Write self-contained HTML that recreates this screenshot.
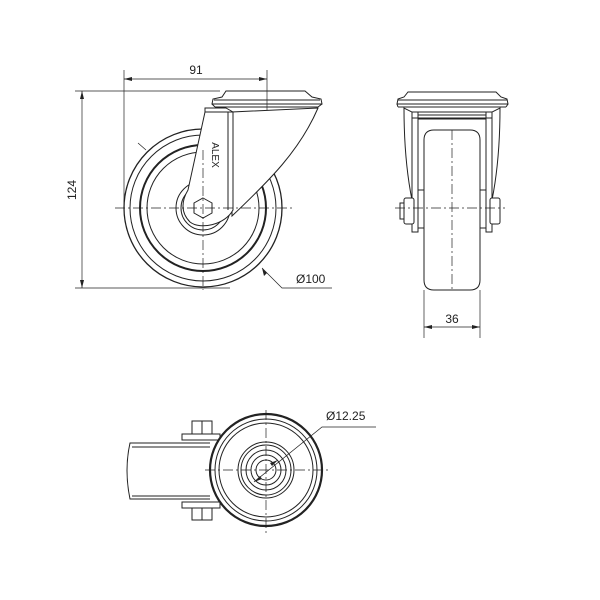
<!DOCTYPE html>
<html><head><style>html,body{margin:0;padding:0;background:#fff}svg{display:block}</style></head><body>
<svg width="600" height="600" viewBox="0 0 600 600" xmlns="http://www.w3.org/2000/svg" font-family="Liberation Sans, sans-serif">
<g fill="none" stroke="#222" stroke-width="1">
<!-- SIDE VIEW -->
<circle cx="203" cy="208" r="79" stroke-width="1.3"/>
<circle cx="203" cy="208" r="73"/>
<circle cx="203" cy="208" r="63" stroke-width="2"/>
<circle cx="203" cy="208" r="56"/>
<circle cx="203" cy="208" r="27" fill="#fff"/>
<circle cx="203" cy="208" r="22"/>
<path d="M318,108 C300,150 270,180 232,216 L232,112 Z" fill="#fff"/>
<path d="M205,112 L233,112 L233,210 C225,225 200,230 190,222 C180,212 182,200 188,190 Z" fill="#fff"/>
<line x1="228" y1="112" x2="228" y2="210"/>
<path d="M205,112 L205,108 L226,108 L233,112"/>
<path d="M212,104 L213,99 L222,97 L226,91 L305,91 L312,97 L321,99 L322,104 Z" fill="#fff"/>
<line x1="214" y1="100" x2="320" y2="100"/>
<line x1="215" y1="107" x2="318" y2="107"/>
<line x1="212" y1="104" x2="215" y2="107"/><line x1="322" y1="104" x2="318" y2="107"/>
<polygon points="203,198 212,203 212,213 203,218 194,213 194,203" fill="#fff"/>
<g stroke-dasharray="10,3,2,3" stroke-width="0.7">
<line x1="115" y1="208" x2="292" y2="208"/>
<line x1="203" y1="150" x2="203" y2="290"/>
</g>
<g stroke-width="0.7">
<line x1="124" y1="70" x2="124" y2="205"/><line x1="267" y1="70" x2="267" y2="110"/>
<line x1="124" y1="79" x2="267" y2="79"/>
<line x1="75" y1="91" x2="220" y2="91"/><line x1="75" y1="288" x2="230" y2="288"/>
<line x1="82" y1="91" x2="82" y2="288"/>
<polyline points="262,268 282,288 332,288"/>
<line x1="138" y1="143" x2="146" y2="150"/>
</g>
</g>
<g fill="#222">
<polygon points="124,79 132,77 132,81"/><polygon points="267,79 259,77 259,81"/>
<polygon points="82,91 80,99 84,99"/><polygon points="82,288 80,280 84,280"/>
<polygon points="262,268 264,276 267,273"/>
</g>
<g font-size="12" fill="#222">
<text x="196" y="74" text-anchor="middle">91</text>
<text x="76" y="190" text-anchor="middle" transform="rotate(-90 76 190)">124</text>
<text x="296" y="283">Ø100</text>
<text x="452" y="323" text-anchor="middle">36</text>
<text x="326" y="420">Ø12.25</text>
<text x="212" y="155" font-size="10" transform="rotate(90 212 155)" text-anchor="middle">ALEX</text>
</g>
<!-- FRONT VIEW -->
<g fill="none" stroke="#222" stroke-width="1">
<path d="M404,108 C404,150 408,180 412,200 L412,112 Z"/>
<path d="M500,108 C500,150 496,180 492,200 L492,112 Z"/>
<rect x="412" y="112" width="80" height="6"/>
<rect x="412" y="112" width="6" height="120"/><rect x="486" y="112" width="6" height="120"/>
<rect x="418" y="115" width="68" height="4"/>
<path d="M424,140 Q424,130 434,130 L470,130 Q480,130 480,140 L480,280 Q480,290 470,290 L434,290 Q424,290 424,280 Z" fill="#fff"/>
<rect x="418" y="190" width="6" height="38"/><rect x="480" y="190" width="6" height="38"/>
<rect x="404" y="198" width="10" height="26" rx="2" fill="#fff"/><rect x="490" y="198" width="10" height="26" rx="2" fill="#fff"/>
<rect x="400" y="203" width="4" height="16"/>
<path d="M397,104 L398,99 L404,97 L408,92 L496,92 L501,97 L507,99 L508,104 Z" fill="#fff"/>
<line x1="398" y1="100" x2="507" y2="100"/>
<line x1="398" y1="107" x2="506" y2="107"/><line x1="397" y1="104" x2="398" y2="107"/><line x1="508" y1="104" x2="506" y2="107"/>
<g stroke-dasharray="10,3,2,3" stroke-width="0.7">
<line x1="452" y1="130" x2="452" y2="290"/><line x1="395" y1="208" x2="505" y2="208"/>
</g>
<g stroke-width="0.7">
<line x1="424" y1="290" x2="424" y2="338"/><line x1="480" y1="290" x2="480" y2="338"/>
<line x1="424" y1="327" x2="480" y2="327"/>
</g>
</g>
<g fill="#222"><polygon points="424,327 432,325 432,329"/><polygon points="480,327 472,325 472,329"/></g>
<!-- BOTTOM VIEW -->
<g fill="none" stroke="#222" stroke-width="1">
<path d="M210,443 L130,443 Q124,470 130,499 L210,499"/>
<line x1="132" y1="447" x2="210" y2="447"/><line x1="132" y1="496" x2="210" y2="496"/>
<rect x="182" y="434" width="38" height="6"/><rect x="182" y="502" width="38" height="6"/>
<rect x="192" y="421" width="20" height="13"/><rect x="192" y="508" width="20" height="12"/>
<line x1="202" y1="421" x2="202" y2="434"/><line x1="202" y1="508" x2="202" y2="520"/>
<circle cx="266" cy="470" r="56" stroke-width="2.2" fill="#fff"/>
<circle cx="266" cy="470" r="51"/>
<circle cx="266" cy="470" r="47"/>
<circle cx="266" cy="470" r="28"/>
<circle cx="266" cy="470" r="25"/>
<circle cx="266" cy="470" r="20"/>
<circle cx="266" cy="470" r="15"/>
<circle cx="266" cy="470" r="10"/>
<g stroke-dasharray="10,3,2,3" stroke-width="0.7">
<line x1="205" y1="470" x2="330" y2="470"/><line x1="266" y1="410" x2="266" y2="533"/>
</g>
<polyline points="254,482 322,427 376,427" stroke-width="0.7"/>
</g>
<g fill="#222"><polygon points="278,460 272,466 270,463"/><polygon points="254,482 260,476 262,479"/></g>
</svg>
</body></html>
